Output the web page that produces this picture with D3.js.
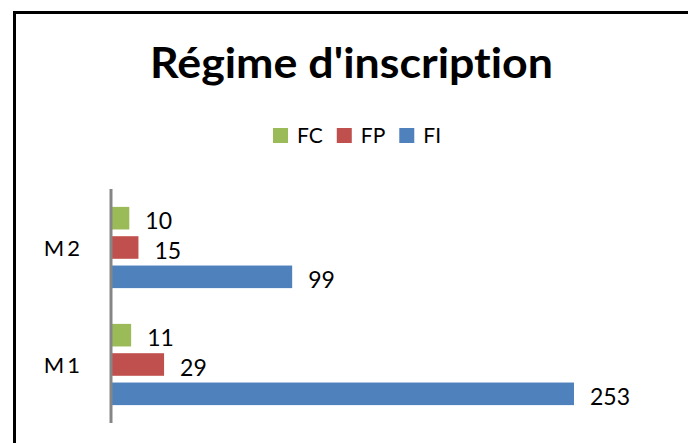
<!DOCTYPE html>
<html>
<head>
<meta charset="utf-8">
<script src="https://cdn.jsdelivr.net/npm/d3@7"></script>
<style>
  html, body { margin: 0; padding: 0; background: #fff; }
  svg { display: block; }
  text { font-family: Lato, "Open Sans", sans-serif; fill: #000; font-variant-ligatures: none; font-feature-settings: "liga" 0, "clig" 0; }
</style>
</head>
<body>
<svg id="chart" width="688" height="443"></svg>
<script>
// ---- data ----
const title = "Régime d'inscription";
const categories = ["M2", "M1"];          // top to bottom
const seriesNames = ["FC", "FP", "FI"];
const seriesColors = ["#9BBB59", "#C0504D", "#4F81BD"];
const valuesFC = [10, 11];
const valuesFP = [15, 29];
const valuesFI = [99, 253];
const xDomainMax = 300;

const seriesValues = [valuesFC, valuesFP, valuesFI];
const rows = [];
categories.forEach((c, ci) => {
  seriesNames.forEach((s, si) => {
    rows.push({ cat: c, series: s, value: seriesValues[si][ci], color: seriesColors[si] });
  });
});

// ---- layout ----
const plot = { left: 111, right: 660, top: 189, bottom: 423 };

const svg = d3.select("#chart");

// frame
svg.append("rect")
  .attr("x", 14.5).attr("y", 12.5)
  .attr("width", 720).attr("height", 500)
  .attr("fill", "none").attr("stroke", "#000").attr("stroke-width", 3);

// title
svg.append("text")
  .attr("x", 351.5).attr("y", 78)
  .attr("text-anchor", "middle")
  .attr("font-size", 42).attr("font-weight", "bold")
  .attr("textLength", 403).attr("lengthAdjust", "spacingAndGlyphs")
  .text(title);

// legend
const legend = svg.append("g").attr("transform", "translate(273,128)");
let lx = 0;
seriesNames.forEach((s, i) => {
  const g = legend.append("g").attr("transform", `translate(${lx},0)`);
  g.append("rect").attr("width", 15).attr("height", 15).attr("fill", seriesColors[i]);
  const t = g.append("text").attr("x", 24).attr("y", 15).attr("font-size", 21).text(s);
  lx += 24 + t.node().getComputedTextLength() + 14;
});

// scales
const x = d3.scaleLinear().domain([0, xDomainMax]).range([plot.left, plot.right]);
const y0 = d3.scaleBand().domain(categories).range([plot.top, plot.bottom]).padding(0);
const y1 = d3.scaleBand().domain(seriesNames).range([0, y0.bandwidth()])
  .paddingInner(0.23).paddingOuter(0.61);

// bars
const groups = svg.append("g").selectAll("g")
  .data(categories).join("g")
  .attr("transform", d => `translate(0,${y0(d)})`);

groups.selectAll("rect")
  .data(c => rows.filter(r => r.cat === c))
  .join("rect")
  .attr("x", x(0))
  .attr("y", d => y1(d.series))
  .attr("width", d => x(d.value) - x(0))
  .attr("height", y1.bandwidth())
  .attr("fill", d => d.color);

// value labels
groups.selectAll("text.val")
  .data(c => rows.filter(r => r.cat === c))
  .join("text")
  .attr("class", "val")
  .attr("x", d => x(d.value) + 16)
  .attr("y", d => y1(d.series) + y1.bandwidth())
  .attr("font-size", 23)
  .text(d => d.value);

// category axis
const yAxis = d3.axisLeft(y0).tickSize(0).tickPadding(28);
const axisG = svg.append("g").attr("transform", `translate(${plot.left},0)`).call(yAxis);
axisG.select(".domain").attr("stroke", "#868686").attr("stroke-width", 3)
  .attr("d", `M0,${plot.top}V${plot.bottom}`);
axisG.selectAll(".tick text")
  .attr("font-family", "Lato, 'Open Sans', sans-serif")
  .attr("font-size", 22)
  .attr("fill", "#000")
  .attr("letter-spacing", 3)
  .attr("dy", "0.4em");
</script>
</body>
</html>
